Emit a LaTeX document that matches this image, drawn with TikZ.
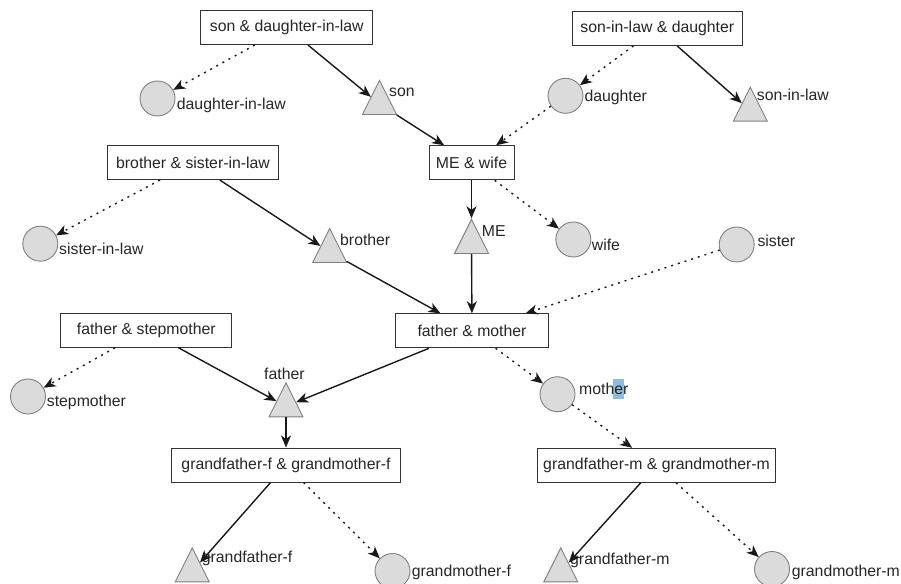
\documentclass[tikz,border=0pt]{standalone}
\usepackage{fontspec}
\setmainfont{Liberation Sans}
\usetikzlibrary{shapes.geometric,arrows.meta}

\definecolor{hlblue}{RGB}{143,188,219}

\tikzset{
  base/.style={font=\fontsize{15.8}{18}\selectfont, text=black!85},
  couple/.style={base, draw=black!80, line width=1pt, fill=white, inner sep=0pt, minimum height=34pt},
  femalenode/.style={circle, draw=black!50, line width=0.9pt, fill=black!14, minimum size=35pt, inner sep=0pt},
  malenode/.style={isosceles triangle, shape border rotate=90, isosceles triangle stretches,
    minimum width=34pt, minimum height=34pt, inner sep=0pt, draw=black!50, line width=0.9pt,
    fill=black!14, anchor=apex},
  lbl/.style={base, inner sep=0pt, anchor=base west},
  kid/.style={line width=1.4pt, draw=black!90, -{Stealth[length=12pt,width=10pt,inset=3.5pt]}},
  partner/.style={kid, dash pattern=on 2pt off 5pt},
}

\begin{document}
\begin{tikzpicture}[x=1pt,y=-1pt]
\useasboundingbox (0,0) rectangle (901,583);

% couples
\node[couple, minimum width=172pt] (sdil) at (286.7,27.5) {son \& daughter-in-law};
\node[couple, minimum width=170pt] (sild) at (657.3,28.3) {son-in-law \& daughter};
\node[couple, minimum width=171pt] (bsil) at (193,162.5) {brother \& sister-in-law};
\node[couple, minimum width=85pt]  (mew)  at (471.5,162.8) {ME \& wife};
\node[couple, minimum width=171pt] (fsm)  at (146.3,330.2) {father \& stepmother};
\node[couple, minimum width=153pt] (fm)   at (472,330.8) {father \& mother};
\node[couple, minimum width=229pt] (gff)  at (286,465) {grandfather-f \& grandmother-f};
\node[couple, minimum width=238pt] (gfm)  at (656.5,465.3) {grandfather-m \& grandmother-m};

% women
\node[femalenode] (dil)  at (157.5,98.5) {};
\node[femalenode] (dau)  at (565.5,95.8) {};
\node[femalenode] (sil)  at (40.3,243.7) {};
\node[femalenode] (wife) at (573.3,239.5) {};
\node[femalenode] (sis)  at (736.7,244.5) {};
\node[femalenode] (stm)  at (28,396.5) {};
\node[femalenode] (mot)  at (557.5,394.2) {};
\node[femalenode] (gmf)  at (392.5,571) {};
\node[femalenode] (gmm)  at (772,569) {};

% men
\node[malenode] (son)  at (379.5,79.3) {};
\node[malenode] (sonl) at (750.3,86) {};
\node[malenode] (bro)  at (329.7,227.3) {};
\node[malenode] (me)   at (471.5,218.3) {};
\node[malenode] (fat)  at (286,381.7) {};
\node[malenode] (gff1) at (192.2,546.7) {};
\node[malenode] (gfm1) at (560.8,546.7) {};

% selection mark behind part of a label
\fill[hlblue] (613.3,379) rectangle (624.3,399);

% labels
\node[lbl] (ldil)  at (176.7,110) {daughter-in-law};
\node[lbl] (lson)  at (389,96.7) {son};
\node[lbl] (ldau)  at (584.3,101.7) {daughter};
\node[lbl] (lsonl) at (756.7,100) {son-in-law};
\node[lbl] (lsil)  at (59,254) {sister-in-law};
\node[lbl] (lbro)  at (340,245) {brother};
\node[lbl] (lme)   at (481.7,236.7) {ME};
\node[lbl] (lwife) at (591.7,250) {wife};
\node[lbl] (lsis)  at (757.3,246.7) {sister};
\node[lbl] (lstm)  at (46.7,406.7) {stepmother};
\node[lbl] (lfat)  at (264,379) {father};
\node[lbl] (lmot)  at (579,394.3) {mother};
\node[lbl] (lgff1) at (201.7,562) {grandfather-f};
\node[lbl] (lgmf)  at (411.7,576.7) {grandmother-f};
\node[lbl] (lgfm1) at (570,564.3) {grandfather-m};
\node[lbl] (lgmm)  at (791.7,576.7) {grandmother-m};

% connectors
\draw[partner] (sdil) -- (dil);
\draw[kid]     (sdil) -- (son);
\draw[kid]     (son) -- (mew);
\draw[partner] (sild) -- (dau);
\draw[kid]     (sild) -- (sonl);
\draw[partner] (dau) -- (mew);
\draw[partner] (bsil) -- (sil);
\draw[kid]     (bsil) -- (bro);
\draw[kid]     (bro) -- (fm);
\draw[kid]     (mew) -- (me);
\draw[partner] (mew) -- (wife);
\draw[kid]     (me) -- (fm);
\draw[partner] (sis) -- (fm);
\draw[partner] (fsm) -- (stm);
\draw[kid]     (fsm) -- (fat);
\draw[kid]     (fm) -- (fat);
\draw[partner] (fm) -- (mot);
\draw[kid, line width=2pt] (fat) -- (gff);
\draw[partner] (mot) -- (gfm);
\draw[kid]     (gff) -- (gff1);
\draw[partner] (gff) -- (gmf);
\draw[kid]     (gfm) -- (gfm1);
\draw[partner] (gfm) -- (gmm);
\end{tikzpicture}
\end{document}
